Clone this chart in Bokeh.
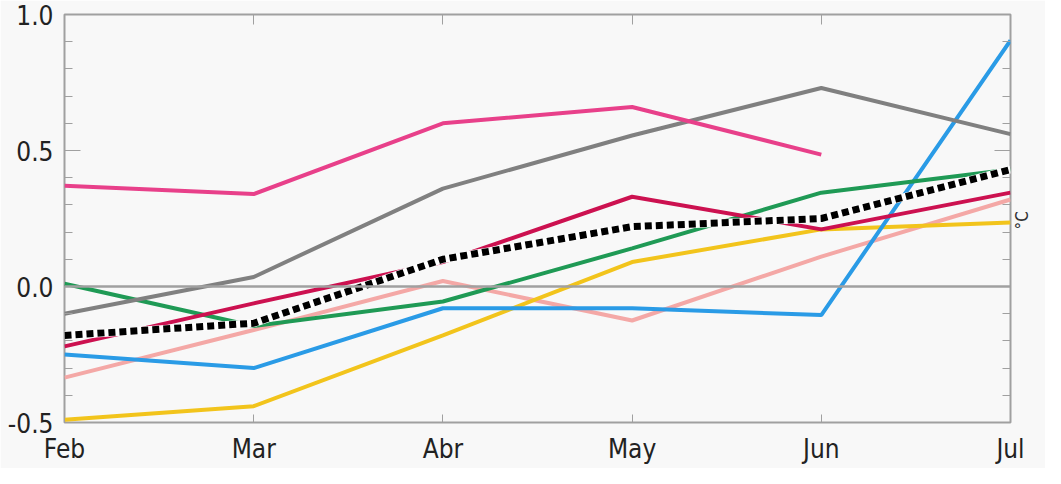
import math
import numpy as np
from bokeh.plotting import figure
from bokeh.models import (Range1d, FixedTicker, LinearAxis, Span,
                          PrintfTickFormatter, CustomJSTickFormatter)
from bokeh.embed import file_html
from bokeh.resources import INLINE

months = ["Feb", "Mar", "Abr", "May", "Jun", "Jul"]
x = list(range(len(months)))

pink = [0.37, 0.34, 0.60, 0.66, 0.485, np.nan]
gray = [-0.10, 0.035, 0.36, 0.555, 0.73, 0.56]
green = [0.01, -0.145, -0.055, 0.14, 0.345, 0.43]
crimson = [-0.22, -0.062, 0.09, 0.33, 0.21, 0.345]
blue = [-0.25, -0.30, -0.08, -0.08, -0.105, 0.905]
lightpink = [-0.335, -0.16, 0.02, -0.125, 0.11, 0.32]
yellow = [-0.49, -0.44, -0.18, 0.09, 0.21, 0.235]
mean = [-0.18, -0.135, 0.10, 0.22, 0.25, 0.43]

y_major = [-0.5, 0.0, 0.5, 1.0]
y_minor = [-0.4, -0.3, -0.2, -0.1, 0.1, 0.2, 0.3, 0.4, 0.6, 0.7, 0.8, 0.9]
unit_label = "°C"
unit_pos = [0.21]

BG = "#f8f8f8"
FRAME = "#a0a0a0"
FONT = "'DejaVu Sans Condensed', 'DejaVu Sans'"

p = figure(width=1045, height=468, output_backend="svg", toolbar_location=None,
           x_range=Range1d(0, 5), y_range=Range1d(-0.5, 1.0),
           min_border_left=64, min_border_right=0, min_border_top=14, min_border_bottom=46,
           background_fill_color=BG, border_fill_color=BG)
p.grid.visible = False
p.outline_line_color = FRAME
p.outline_line_width = 2

xa = p.xaxis[0]
xa.ticker = FixedTicker(ticks=x)
xa.major_label_overrides = {i: m for i, m in zip(x, months)}
xa.axis_line_color = None
xa.major_tick_in = 8
xa.major_tick_out = 0
xa.minor_tick_in = 0
xa.minor_tick_out = 0
xa.major_tick_line_color = FRAME
xa.major_label_standoff = 11
xa.major_label_text_font = FONT
xa.major_label_text_font_size = "26px"
xa.major_label_text_color = "#222222"

ya = p.yaxis[0]
ya.ticker = FixedTicker(ticks=y_major, minor_ticks=y_minor)
ya.formatter = PrintfTickFormatter(format="%.1f")
ya.axis_line_color = None
ya.major_tick_in = 16
ya.major_tick_out = 0
ya.minor_tick_in = 8
ya.minor_tick_out = 0
ya.major_tick_line_color = FRAME
ya.minor_tick_line_color = FRAME
ya.major_label_standoff = 11
ya.major_label_text_font = FONT
ya.major_label_text_font_size = "26px"
ya.major_label_text_color = "#222222"

blank = CustomJSTickFormatter(code="return ''")

top = LinearAxis(ticker=FixedTicker(ticks=x), formatter=blank, axis_line_color=None,
                 major_tick_in=10, major_tick_out=0, minor_tick_in=0, minor_tick_out=0,
                 major_tick_line_color=FRAME, major_label_standoff=0)
p.add_layout(top, "above")

right = LinearAxis(ticker=FixedTicker(ticks=y_major, minor_ticks=y_minor), formatter=blank,
                   axis_line_color=None,
                   major_tick_in=16, major_tick_out=0, minor_tick_in=8, minor_tick_out=0,
                   major_tick_line_color=FRAME, minor_tick_line_color=FRAME,
                   major_label_standoff=0)
p.add_layout(right, "right")

unit_axis = LinearAxis(ticker=FixedTicker(ticks=unit_pos),
                       formatter=CustomJSTickFormatter(args=dict(lbl=unit_label), code="return lbl"),
                       axis_line_color=None, major_tick_in=0, major_tick_out=0,
                       minor_tick_in=0, minor_tick_out=0, major_tick_line_color=None,
                       major_label_standoff=12, major_label_orientation=math.pi / 2,
                       major_label_text_font=FONT, major_label_text_font_size="17px",
                       major_label_text_color="#333333")
p.add_layout(unit_axis, "right")

p.add_layout(Span(location=0, dimension="width", line_color=FRAME, line_width=2.5))

series = [
    (lightpink, "#f4a8a6"),
    (yellow, "#f2c41c"),
    (blue, "#2a9be6"),
    (green, "#1f9a55"),
    (crimson, "#cc1150"),
    (gray, "#808080"),
    (pink, "#e8408a"),
]
for vals, col in series:
    p.line(x, vals, line_color=col, line_width=4)

p.line(x, mean, line_color="white", line_width=8)
p.line(x, mean, line_color="black", line_width=7, line_dash="7 4")

open("out.html", "w").write(file_html(p, INLINE))
